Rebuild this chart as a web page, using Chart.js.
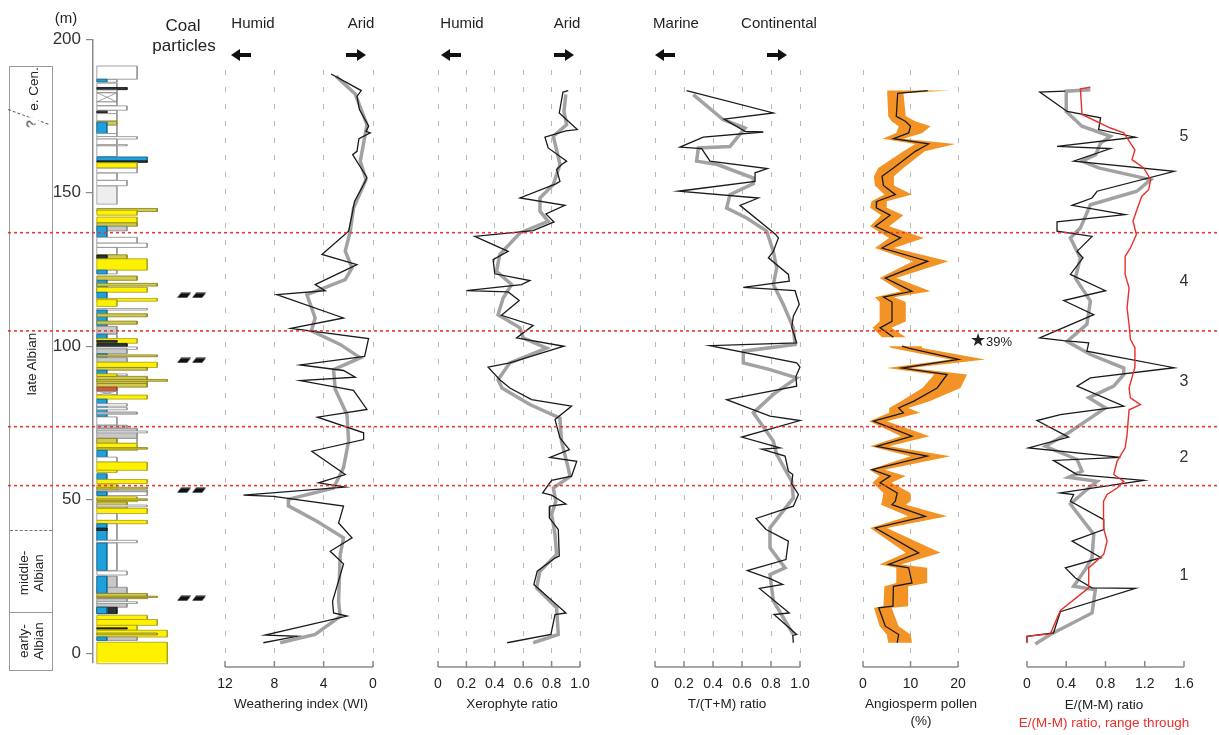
<!DOCTYPE html>
<html lang="en">
<head>
<meta charset="UTF-8">
<title>Albian proxy records</title>
<script src="https://cdn.jsdelivr.net/npm/chart.js@4.4.1/dist/chart.umd.min.js"></script>
<style>
  body { margin: 0; background: #fff; }
  #page { position: relative; width: 1219px; height: 735px; overflow: hidden;
          font-family: "Liberation Sans", Arial, sans-serif; color: #222; }
  #page canvas { position: absolute; top: 0; z-index: 1; }
  .t { position: absolute; white-space: nowrap; transform: translate(-50%, -50%); line-height: 1; z-index: 2; }
  .rot { transform: translate(-50%, -50%) rotate(-90deg); text-align: center; line-height: 15px; font-size: 13.5px; }
  .box { position: absolute; box-sizing: border-box; border: 1px solid #9a9a9a; }
  .sep { position: absolute; left: 10px; width: 42px; height: 0; }
  .arrow { position: absolute; width: 20px; height: 12px; z-index: 2; }
  .arrow i { position: absolute; top: 4px; width: 13px; height: 4px; background: #111; }
  .arrow b { position: absolute; top: 0; width: 0; height: 0; border-top: 6px solid transparent; border-bottom: 6px solid transparent; }
  .arrow.l i { right: 0; } .arrow.l b { left: 0; border-right: 9px solid #111; }
  .arrow.r i { left: 0; } .arrow.r b { right: 0; border-left: 9px solid #111; }
</style>
</head>
<body>
<div id="page">
  <!-- stage column -->
  <div class="box" style="left:9px; top:66px; width:44px; height:605px;"></div>
  <div class="sep" style="top:530px; border-top:1px dashed #777;"></div>
  <div class="sep" style="top:612px; border-top:1px solid #9a9a9a;"></div>
  <div class="sep" style="top:109px; left:8px; width:43px; border-top:1px dashed #666; transform-origin:left; transform:rotate(20deg);"></div>
  <div class="t rot" style="left:33px; top:89px;">e. Cen.</div>
  <div class="t rot" style="left:31px; top:124px; background:#fff; padding:0 2px;">?</div>
  <div class="t rot" style="left:31px; top:364px;">late Albian</div>
  <div class="t rot" style="left:31px; top:573px;">middle-<br>Albian</div>
  <div class="t rot" style="left:31px; top:641px;">early-<br>Albian</div>

  <div class="t" style="left:66px; top:17px; font-size:15px;">(m)</div>
  <div class="t" style="left:183px; top:25px; font-size:17px;">Coal</div>
  <div class="t" style="left:184px; top:45px; font-size:17px;">particles</div>

  <!-- panel headers -->
  <div class="t" style="left:253px; top:22px; font-size:15px;">Humid</div>
  <div class="t" style="left:361px; top:22px; font-size:15px;">Arid</div>
  <div class="arrow l" style="left:231px; top:49px;"><b></b><i></i></div>
  <div class="arrow r" style="left:346px; top:49px;"><i></i><b></b></div>

  <div class="t" style="left:462px; top:22px; font-size:15px;">Humid</div>
  <div class="t" style="left:567px; top:22px; font-size:15px;">Arid</div>
  <div class="arrow l" style="left:441px; top:49px;"><b></b><i></i></div>
  <div class="arrow r" style="left:554px; top:49px;"><i></i><b></b></div>

  <div class="t" style="left:676px; top:22px; font-size:15px;">Marine</div>
  <div class="t" style="left:779px; top:22px; font-size:15px;">Continental</div>
  <div class="arrow l" style="left:655px; top:49px;"><b></b><i></i></div>
  <div class="arrow r" style="left:767px; top:49px;"><i></i><b></b></div>

  <!-- axis titles -->
  <div class="t" style="left:301px; top:704px; font-size:13.5px;">Weathering index (WI)</div>
  <div class="t" style="left:512px; top:704px; font-size:13.5px;">Xerophyte ratio</div>
  <div class="t" style="left:727px; top:704px; font-size:13.5px;">T/(T+M) ratio</div>
  <div class="t" style="left:921px; top:704px; font-size:13.5px;">Angiosperm pollen</div>
  <div class="t" style="left:921px; top:721px; font-size:13.5px;">(%)</div>
  <div class="t" style="left:1104px; top:705px; font-size:13.5px;">E/(M-M) ratio</div>
  <div class="t" style="left:1104px; top:723px; font-size:13.5px; color:#e8302a;">E/(M-M) ratio, range through</div>

  <div class="t" style="left:991px; top:340px; font-size:13px;"><span style="font-size:18px;">&#9733;</span>39%</div>

  <div class="t" style="left:1184px; top:136px; font-size:16px; color:#333;">5</div>
  <div class="t" style="left:1184px; top:281px; font-size:16px; color:#333;">4</div>
  <div class="t" style="left:1184px; top:381px; font-size:16px; color:#333;">3</div>
  <div class="t" style="left:1184px; top:457px; font-size:16px; color:#333;">2</div>
  <div class="t" style="left:1184px; top:575px; font-size:16px; color:#333;">1</div>
</div>

<script>
// ---- depth axis / boundaries ----
const depthTicks = [0, 50, 100, 150, 200];
const boundaryDepth = [137.0, 105.0, 73.8, 54.6];
const coalDepth = [116.6, 95.4, 53.1, 17.9];

// ---- lithology column (top, base in m; grain-size class; lithology) ----
const litTop  = [191.3,186.9,187.0,185.7,184.3,183.5,182.6,179.6,178.3,176.8,176.6,175.8,173.3,172.0,173.0,169.3,168.3,167.5,165.7,165.3,
                 161.7,160.4,159.8,158.0,156.4,154.0,152.2,144.9,144.3,142.1,140.2,139.1,139.1,135.5,133.6,132.2,129.8,129.7,128.5,124.8,
                 124.8,122.9,121.5,120.5,119.2,117.6,115.6,115.2,112.3,111.8,110.6,108.2,106.5,103.9,103.9,102.5,101.9,100.9,99.8,99.2,
                 97.6,97.2,96.3,94.8,93.1,92.2,91.0,91.0,90.2,89.2,87.9,86.7,85.4,84.1,82.8,81.3,80.0,78.6,77.0,74.3,
                 73.3,72.4,70.0,70.0,68.4,67.0,66.1,63.9,62.3,59.6,58.5,56.6,54.9,54.1,53.2,52.6,52.6,51.0,50.3,49.3,
                 48.3,47.2,45.5,43.3,42.2,42.2,40.8,36.8,35.9,35.9,26.8,25.1,21.5,25.1,19.5,18.6,17.8,16.8,15.0,15.0,
                 12.4,11.0,9.1,8.3,7.5,6.6,5.3,5.3,3.6];
const litBase = [187.0,186.0,186.2,184.3,183.6,182.6,179.6,178.4,176.9,175.8,176.0,173.4,172.0,169.3,169.3,168.3,167.5,165.5,165.3,161.8,
                 160.4,159.9,158.1,156.5,154.1,152.3,146.3,143.9,142.7,140.2,139.1,137.6,135.5,133.6,132.2,129.8,128.5,128.6,124.8,123.6,
                 123.6,121.5,117.3,119.6,117.6,115.6,114.7,113.0,111.8,106.6,109.6,107.2,104.0,102.4,102.4,101.0,101.3,99.8,99.0,97.6,
                 96.3,96.6,94.8,93.1,92.2,91.0,90.4,90.2,87.9,88.6,86.7,85.4,84.1,82.8,77.0,80.5,79.3,77.9,74.3,73.3,
                 70.0,71.8,68.4,68.4,66.1,66.5,63.9,62.3,59.6,58.9,56.6,55.3,52.6,53.5,52.6,51.4,51.4,49.4,49.8,47.2,
                 47.7,45.5,43.3,42.2,36.8,36.8,40.0,36.0,27.0,27.0,25.5,19.5,19.5,19.5,17.8,18.2,15.0,16.2,12.9,12.9,
                 11.0,9.1,7.5,7.9,5.3,6.0,4.2,4.2,-3.4];
const litSize = [4,2,1,2,3,2,2,2,3,2,1,2,2,2,1,2,4,2,3,2,
                 5,5,4,4,2,3,2,6,4,4,4,3,1,4,5,2,3,1,5,2,
                 1,4,1,6,5,1,6,2,5,1,5,4,2,2,1,4,2,3,4,3,
                 1,6,3,6,5,1,3,2,5,7,5,2,2,5,1,3,3,4,2,3,
                 4,5,4,2,4,5,1,2,5,2,1,5,2,5,5,5,1,4,5,3,
                 5,5,2,5,2,1,1,4,2,1,3,2,3,1,5,6,3,4,2,1,
                 5,6,4,3,7,6,4,1,7];
const litType = ['mud','mud','blue','mud','dark','mud','cover','mud','mud','mud','dark','mud','silt','mud','blue','mud','mud','mud','mud','mud',
                 'blue','dark','sand','mud','mud','mud','lam','silt','sand','sand','silt','grey','blue','mud','mud','mud','silt','dark','sand','mud',
                 'blue','silt','blue','silt','sand','blue','sand','sand','mud','blue','silt','silt','grey','mud','blue','sand','dark','dark','mud','grey',
                 'blue','silt','grey','sand','silt','blue','mud','sand','silt','silt','silt','red','cover','sand','blue','mud','mud','grey','mud','grey',
                 'grey','mud','mud','silt','sand','silt','blue','mud','sand','sand','blue','sand','sand','silt','grey','mud','blue','sand','silt','silt',
                 'mud','sand','mud','sand','mud','blue','dark','mud','mud','blue','mud','grey','grey','blue','silt','silt','grey','mud','dark','blue',
                 'sand','sand','sand','dark','sand','silt','grey','blue','sand'];

// ---- weathering index ----
const wiDepth = [188.7,183.3,181.4,177.1,171.7,170.0,169.5,167.6,163.5,162.4,155.0,152.7,147.2,142.9,137.5,129.9,126.6,120.1,118.1,116.8,
                 109.2,105.8,102.5,96.7,93.9,92.1,89.9,88.8,85.6,79.4,76.9,71.8,69.6,65.8,58.2,55.5,54.1,51.5,51.1,47.9,
                 42.4,37.6,33.2,29.1,16.9,13.1,12.1,5.9,5.5,3.4];
const wiValue = [3.4,0.95,1.3,1.1,0.35,0.57,0.22,1.14,1.3,1.65,0.49,0.76,1.5,1.7,1.98,4.14,1.3,4.69,3.87,7.8,
                 2.39,6.66,0.36,0.68,5.9,2.39,1.44,5.9,1.58,0.49,4.5,0.76,0.76,4.96,2.25,4.42,2.25,10.5,8.07,2.39,
                 2.79,1.7,3.47,2.39,3.28,3.2,2.11,8.75,6.17,8.89];
const wiSmoothDepth = [188.0,182.2,172.2,160.3,154.3,145.0,137.5,131.0,125.5,121.7,116.8,109.2,105.0,100.6,96.2,92.4,85.9,77.8,69.1,60.4,
                       53.8,50.1,48.0,43.0,37.6,32.1,16.9,12.0,6.1,3.4];
const wiSmoothValue = [3.0,1.44,0.49,1.03,0.57,1.58,1.84,2.25,1.7,2.25,5.36,4.69,5.0,2.66,1.03,3.2,3.06,2.11,1.98,2.39,
                       3.2,6.86,6.86,4.55,2.39,2.66,2.79,2.66,4.69,7.53];
const wiTicks = [12, 8, 4, 0];

// ---- xerophyte ratio ----
const xeroDepth = [183.3,182.8,176.0,170.6,170.2,168.1,164.6,160.3,159.2,157.6,153.7,152.9,148.3,145.9,143.1,140.5,137.7,135.8,130.9,128.2,
                   123.6,121.4,120.1,118.1,117.7,114.9,110.1,106.8,102.7,100.0,97.3,94.6,93.2,89.1,86.4,82.6,80.5,76.1,70.1,66.3,
                   63.8,62.5,57.7,56.3,52.2,51.5,48.6,47.9,44.1,40.3,31.6,31.0,26.7,22.4,13.1,12.6,6.1,3.4];
const xeroValue = [0.917,0.88,0.854,0.981,0.90,0.753,0.776,0.906,0.871,0.835,0.859,0.83,0.577,0.894,0.76,0.817,0.67,0.259,0.494,0.388,
                   0.40,0.647,0.588,0.20,0.494,0.572,0.447,0.67,0.553,0.887,0.694,0.506,0.353,0.435,0.506,0.659,0.941,0.824,0.859,0.925,
                   0.788,0.977,0.941,0.80,0.737,0.80,0.901,0.788,0.784,0.847,0.854,0.824,0.699,0.675,0.901,0.824,0.795,0.487];
const xeroSmoothDepth = [182.0,176.5,172.2,168.4,163.0,159.2,152.7,148.3,144.0,140.7,136.9,129.9,124.4,120.1,115.7,110.3,106.0,102.7,99.4,94.6,
                         89.1,86.4,81.0,76.6,69.0,60.4,57.6,53.8,49.5,45.2,38.7,32.2,26.7,21.3,14.8,6.1,3.4];
const xeroSmoothValue = [0.90,0.887,0.906,0.812,0.84,0.859,0.812,0.718,0.718,0.776,0.577,0.435,0.412,0.518,0.459,0.423,0.577,0.60,0.765,0.506,
                         0.423,0.45,0.647,0.859,0.87,0.917,0.93,0.812,0.83,0.80,0.824,0.835,0.718,0.694,0.835,0.847,0.67];
const ratioTicks = [0, 0.2, 0.4, 0.6, 0.8, 1.0];

// ---- T/(T+M) ratio ----
const ttmDepth = [183.3,176.0,174.0,170.0,169.8,168.1,164.9,164.4,160.3,157.9,156.5,153.7,150.5,148.3,145.9,136.6,135.3,130.9,128.8,123.4,
                  121.2,119.2,118.1,113.6,109.8,106.2,101.1,100.2,94.6,93.2,90.2,87.0,82.6,77.2,75.8,70.4,66.9,66.5,64.2,59.3,
                  58.2,55.2,51.7,47.9,43.9,40.3,36.5,30.5,26.9,24.3,22.4,21.1,13.1,12.6,6.1,5.8,3.4];
const ttmValue = [0.218,0.816,0.476,0.621,0.747,0.333,0.172,0.322,0.379,0.775,0.69,0.69,0.161,0.713,0.586,0.828,0.851,0.816,0.782,0.92,
                  0.926,0.609,0.966,0.995,0.954,0.943,0.977,0.379,0.977,1.0,0.972,0.977,0.494,0.793,1.0,0.598,0.862,0.736,0.897,0.92,
                  0.95,0.943,0.989,0.954,0.697,0.766,0.92,0.903,0.637,0.793,0.881,0.72,0.926,0.821,0.977,0.95,0.954];
const ttmSmoothDepth = [182.0,173.8,171.1,165.1,164.6,160.3,159.2,154.8,153.0,149.4,145.0,141.8,137.5,130.9,125.5,120.1,113.6,106.0,100.6,98.4,
                        94.6,92.4,89.7,84.3,78.3,69.1,64.8,56.0,50.6,40.8,34.3,27.8,25.6,17.0,6.1];
const ttmSmoothValue = [0.264,0.471,0.621,0.517,0.299,0.287,0.43,0.678,0.678,0.517,0.494,0.632,0.77,0.816,0.839,0.816,0.885,0.954,0.966,0.609,
                        0.609,0.793,0.977,0.816,0.678,0.816,0.839,0.943,0.954,0.793,0.793,0.897,0.793,0.816,0.954];

// ---- angiosperm pollen (%) ----
const pollenDepth = [183.3,182.4,174.9,173.3,171.7,169.5,167.6,165.9,163.5,158.1,155.4,152.4,149.4,147.2,145.1,142.7,139.1,135.3,132.0,127.7,
                     122.2,117.9,116.0,114.4,108.1,106.0,102.9,100.0,99.4,95.7,92.9,90.8,86.4,82.1,79.9,78.3,75.6,70.7,67.4,64.2,
                     59.8,57.7,55.5,52.2,49.5,48.4,44.6,40.8,32.7,28.9,27.8,22.9,21.8,15.3,14.8,8.8,6.1,3.4];
const pollenValue = [13.6,7.3,7.0,8.9,10.0,9.6,6.4,13.8,11.0,6.4,4.0,4.3,6.8,2.9,2.8,5.7,2.6,7.9,4.0,13.6,
                     4.7,10.3,4.3,6.1,6.1,3.6,6.4,8.2,9.6,20.1,8.2,17.7,15.6,10.7,7.5,8.5,2.2,10.3,2.9,13.5,
                     1.9,5.7,3.6,7.2,6.8,6.1,13.1,2.6,11.7,5.4,9.6,10.3,6.4,6.3,3.3,4.7,7.5,7.2];
const pollenLow = [5.1,5.1,5.3,6.0,7.5,7.0,4.1,11.0,8.5,3.2,2.3,2.5,4.5,1.8,1.5,3.8,1.5,5.5,2.5,10.5,
                   3.5,8.0,2.5,3.5,3.5,2.0,4.0,5.4,6.0,18.4,5.0,15.0,12.5,8.0,5.5,5.5,1.3,8.0,1.5,10.0,
                   1.3,3.5,2.0,4.3,4.0,3.8,9.5,1.5,9.0,3.5,7.0,7.0,4.5,4.3,2.3,3.5,5.0,5.3];
const pollenHigh = [18.4,8.5,9.0,11.0,14.2,12.5,8.5,19.4,13.0,8.5,6.5,6.5,10.3,5.0,5.0,8.5,5.5,12.8,6.5,18.0,
                    7.0,14.2,6.5,9.0,9.0,6.0,9.0,12.4,12.4,25.7,10.0,21.9,20.5,14.0,9.5,12.0,5.0,14.0,5.5,18.4,
                    4.5,9.0,6.0,10.0,10.0,9.0,17.7,5.0,16.3,8.0,13.5,13.5,9.5,9.6,6.0,7.5,10.0,10.3];
const pollenGapDepth = 101.5;
const pollenTicks = [0, 10, 20];

// ---- E/(M-M) ratio ----
const emDepth = [183.1,182.8,176.5,174.4,170.6,168.1,165.1,164.4,160.3,157.0,150.5,148.3,145.9,142.9,140.5,137.5,135.8,130.9,128.8,123.4,
                 118.1,114.9,110.3,102.7,101.8,101.1,98.4,93.0,89.7,87.0,80.5,77.7,75.8,70.4,66.9,63.8,62.8,58.2,56.3,52.2,
                 51.7,49.5,43.5,40.3,36.5,31.1,27.8,24.5,21.3,21.1,13.5,6.6,5.5,3.4];
const emValue = [0.39,0.13,0.41,0.75,0.73,1.105,0.306,0.85,0.476,1.5,0.714,0.663,0.459,1.0,0.306,0.306,0.663,0.51,0.571,0.442,
                 0.80,0.374,0.68,0.129,0.374,0.629,0.61,1.5,0.646,0.51,0.986,0.34,0.102,0.424,0.016,0.952,0.27,0.51,1.19,0.34,
                 0.476,0.442,0.782,0.782,0.459,0.755,0.391,0.493,0.663,1.105,0.34,0.27,0.0,0.0];
const emSmoothDepth = [183.6,183.1,176.5,171.7,168.4,166.2,162.4,160.3,158.1,154.3,150.5,146.1,138.5,135.3,128.8,122.2,114.7,107.1,101.6,97.3,
                       92.9,90.8,87.0,83.2,79.9,71.8,67.4,63.1,59.3,57.3,56.0,53.8,48.6,38.7,31.1,27.3,21.8,20.7,13.1,6.1,3.0];
const emSmoothValue = [0.646,0.40,0.40,0.56,0.85,0.75,0.70,0.56,0.73,1.26,1.12,0.646,0.544,0.442,0.544,0.493,0.646,0.61,0.408,0.646,
                       0.986,0.986,0.884,0.629,0.80,0.424,0.187,0.51,0.561,0.424,0.714,0.629,0.442,0.68,0.663,0.595,0.476,0.697,0.663,0.238,0.085];
const emRangeDepth = [184.4,183.9,175.5,171.1,169.5,166.2,164.0,160.8,158.1,154.3,151.0,148.9,144.5,140.8,136.4,132.0,129.3,123.4,119.0,112.4,
                      107.1,102.2,99.5,93.2,86.4,83.2,81.0,79.3,71.2,66.9,62.5,58.2,56.0,53.8,51.7,49.5,40.8,36.5,32.2,27.8,
                      21.3,13.9,6.3,5.5,3.4];
const emRangeValue = [0.646,0.544,0.561,0.85,0.986,1.054,1.10,1.07,1.19,1.26,1.24,1.17,1.12,1.08,1.115,1.054,1.0,1.0,1.04,1.02,
                      1.04,1.054,1.10,1.10,1.04,1.054,1.156,1.04,1.02,1.0,0.918,0.884,0.986,0.918,0.816,0.78,0.78,0.816,0.782,0.629,
                      0.629,0.34,0.238,0.0,0.0];
const emTicks = [0, 0.4, 0.8, 1.2, 1.6];

// ---------------------------------------------------------------
Chart.defaults.font.family = '"Liberation Sans", Arial, sans-serif';
Chart.defaults.animation = false;
Chart.defaults.events = [];
Chart.defaults.plugins.legend.display = false;
Chart.defaults.plugins.tooltip.enabled = false;

const page = document.getElementById('page');
const H = 735;

function addCanvas(left, width, z) {
  const c = document.createElement('canvas');
  c.width = Math.round(width); c.height = H;
  c.style.left = left + 'px';
  c.style.width = Math.round(width) + 'px';
  c.style.height = H + 'px';
  if (z) c.style.zIndex = z;
  page.appendChild(c);
  return c;
}

const pts = (ys, xs) => ys.map((y, i) => ({ x: xs[i], y }));

function lineSet(ys, xs, color, width, order) {
  return { data: pts(ys, xs), borderColor: color, borderWidth: width, pointRadius: 0,
           fill: false, tension: 0, order, indexAxis: 'y', clip: 5 };
}

// axis base line between the outer ticks, with small inward tick marks
const axisBase = {
  id: 'axisBase',
  afterDraw(chart) {
    const sx = chart.scales.x, ctx = chart.ctx, y = chart.chartArea.bottom;
    const px = sx.ticks.map(t => sx.getPixelForValue(t.value));
    ctx.save();
    ctx.strokeStyle = '#8a8a8a';
    ctx.lineWidth = 1.5;
    ctx.beginPath();
    ctx.moveTo(Math.min(...px), y);
    ctx.lineTo(Math.max(...px), y);
    px.forEach(p => { ctx.moveTo(p, y); ctx.lineTo(p, y - 6); });
    ctx.stroke();
    ctx.restore();
  }
};

function panel(xLeft, xRight, scale, tickValues, decimals, grid, datasets) {
  const canvas = addCanvas(xLeft - 20, xRight - xLeft + 40);
  return new Chart(canvas, {
    type: 'line',
    data: { datasets },
    options: {
      responsive: false,
      indexAxis: 'y',
      layout: { padding: { top: 70, left: 20, right: 20, bottom: 0 } },
      scales: {
        y: { type: 'linear', min: -4.5, max: 190, display: false },
        x: Object.assign({
          type: 'linear',
          position: 'bottom',
          afterFit: s => { s.height = 68; },
          afterBuildTicks: s => { s.ticks = tickValues.map(v => ({ value: v })); },
          grid: { display: grid, color: '#b8b8b8', lineWidth: 1, drawTicks: false },
          border: { display: false, dash: [5, 12] },
          ticks: {
            padding: 9, color: '#222', font: { size: 14 }, maxRotation: 0, autoSkip: false,
            callback: v => (v === 0 ? '0' : v.toFixed(decimals))
          }
        }, scale)
      }
    },
    plugins: [axisBase]
  });
}

// ---- lithology + coal column ----
const litStyle = {
  sand:  ['#fff200', '#a69c1c'],
  silt:  ['#d2ca4c', '#857f20'],
  mud:   ['#ffffff', '#8c8c8c'],
  lam:   ['#eeeeee', '#9a9a9a'],
  grey:  ['#c8c8c8', '#858585'],
  blue:  ['#1ea0dc', '#15678f'],
  dark:  ['#26343a', '#151515'],
  red:   ['#cf5a3e', '#8c3a28'],
  cover: ['#ffffff', '#8c8c8c']
};

const litSets = litTop.map((top, i) => {
  const base = litBase[i], w = litSize[i], type = litType[i];
  const [fillC, edge] = litStyle[type];
  const corners = type === 'cover'
    ? [[0, top], [w, top], [w, base], [0, base], [0, top], [w, base], [w, top], [0, base]]
    : [[0, top], [w, top], [w, base], [0, base], [0, top]];
  return {
    data: corners.map(([x, y]) => ({ x, y })),
    backgroundColor: fillC, borderColor: edge, borderWidth: 0.8,
    pointRadius: 0, tension: 0, indexAxis: 'y',
    fill: type === 'cover' ? false : 'shape',
    order: -i, clip: false
  };
});

function coalGlyph() {
  const c = document.createElement('canvas');
  c.width = 30; c.height = 6;
  const g = c.getContext('2d');
  g.fillStyle = '#111';
  [0, 15].forEach(x0 => {
    g.beginPath();
    g.moveTo(x0 + 4, 0.5); g.lineTo(x0 + 14, 0.5);
    g.lineTo(x0 + 10, 5.5); g.lineTo(x0, 5.5);
    g.closePath(); g.fill();
  });
  return c;
}

litSets.push({
  data: coalDepth.map(d => ({ x: 9.45, y: d })),
  showLine: false, pointRadius: 5, pointStyle: coalGlyph(), indexAxis: 'y',
  order: -1000, clip: false
});

new Chart(addCanvas(0, 218), {
  type: 'line',
  data: { datasets: litSets },
  options: {
    responsive: false,
    indexAxis: 'y',
    layout: { padding: { top: 39.3, bottom: 72.5, left: 0, right: 0 } },
    scales: {
      x: { type: 'linear', min: -0.38, max: 11.44, display: false },
      y: {
        type: 'linear', min: -3, max: 200, position: 'left',
        afterFit: s => { s.width = 93; },
        afterBuildTicks: s => { s.ticks = depthTicks.map(v => ({ value: v })); },
        grid: { drawOnChartArea: false, color: '#8a8a8a', tickLength: 7, lineWidth: 1.2 },
        border: { color: '#8a8a8a', width: 1.5 },
        ticks: { color: '#333', font: { size: 17 }, padding: 5 }
      }
    }
  }
});

// ---- proxy panels ----
const BLACK = '#1a1a1a', GREY = '#a2a2a2', RED = '#e8302a', ORANGE = '#f39325';

panel(225, 372.7, { min: 0, max: 12, reverse: true }, wiTicks, 0, true, [
  lineSet(wiDepth, wiValue, BLACK, 1.3, 0),
  lineSet(wiSmoothDepth, wiSmoothValue, GREY, 3.5, 1)
]);

panel(438.3, 580, { min: 0, max: 1 }, ratioTicks, 1, true, [
  lineSet(xeroDepth, xeroValue, BLACK, 1.3, 0),
  lineSet(xeroSmoothDepth, xeroSmoothValue, GREY, 3.5, 1)
]);

panel(655, 799.5, { min: 0, max: 1 }, ratioTicks, 1, true, [
  lineSet(ttmDepth, ttmValue, BLACK, 1.3, 0),
  lineSet(ttmSmoothDepth, ttmSmoothValue, GREY, 3.5, 1)
]);

const upperIdx = pollenDepth.map((d, i) => i).filter(i => pollenDepth[i] > pollenGapDepth);
const lowerIdx = pollenDepth.map((d, i) => i).filter(i => pollenDepth[i] <= pollenGapDepth);
function bandSet(idx) {
  const down = idx.map(i => ({ x: pollenLow[i], y: pollenDepth[i] }));
  const up = idx.slice().reverse().map(i => ({ x: pollenHigh[i], y: pollenDepth[i] }));
  return { data: down.concat(up), backgroundColor: ORANGE, borderColor: 'rgba(0,0,0,0)', borderWidth: 0,
           pointRadius: 0, fill: 'shape', tension: 0, order: 2, indexAxis: 'y', clip: false };
}
function pollenLine(idx) {
  return lineSet(idx.map(i => pollenDepth[i]), idx.map(i => pollenValue[i]), BLACK, 1.3, 0);
}
panel(862.7, 988.6, { min: 0, max: 26.5 }, pollenTicks, 0, true, [
  pollenLine(upperIdx), pollenLine(lowerIdx), bandSet(upperIdx), bandSet(lowerIdx)
]);

panel(1026.7, 1183.3, { min: 0, max: 1.6 }, emTicks, 1, false, [
  lineSet(emRangeDepth, emRangeValue, RED, 1.4, 0),
  lineSet(emDepth, emValue, BLACK, 1.3, 1),
  lineSet(emSmoothDepth, emSmoothValue, GREY, 3.5, 2)
]);

// ---- red boundary lines across the whole figure ----
new Chart(addCanvas(0, 1219, 3), {
  type: 'line',
  data: {
    datasets: boundaryDepth.map(d => ({
      data: [{ x: 0, y: d }, { x: 1, y: d }],
      borderColor: '#e53935', borderWidth: 1.6, borderDash: [3, 3], pointRadius: 0
    }))
  },
  options: {
    responsive: false,
    layout: { padding: { top: 70, bottom: 68, left: 8, right: 0 } },
    scales: {
      x: { type: 'linear', min: 0, max: 1, display: false },
      y: { type: 'linear', min: -4.5, max: 190, display: false }
    }
  }
});
</script>
</body>
</html>
